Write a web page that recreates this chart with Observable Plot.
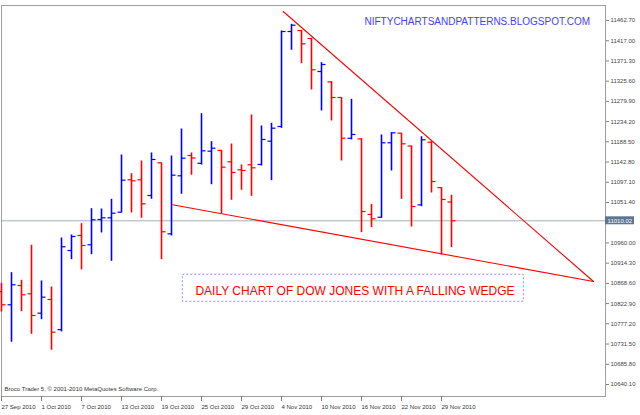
<!DOCTYPE html>
<html><head><meta charset="utf-8">
<script src="https://cdn.jsdelivr.net/npm/d3@7"></script>
<script src="https://cdn.jsdelivr.net/npm/@observablehq/plot@0.6"></script>
<style>body{margin:0;background:#fff;} svg{display:block}</style>
</head><body><div id="chart"></div>
<script>
// Trading days (one bar each)
const dates = ["27 Sep 2010","28 Sep 2010","29 Sep 2010","30 Sep 2010","1 Oct 2010","4 Oct 2010","5 Oct 2010","6 Oct 2010","7 Oct 2010","8 Oct 2010","11 Oct 2010","12 Oct 2010","13 Oct 2010","14 Oct 2010","15 Oct 2010","18 Oct 2010","19 Oct 2010","20 Oct 2010","21 Oct 2010","22 Oct 2010","25 Oct 2010","26 Oct 2010","27 Oct 2010","28 Oct 2010","29 Oct 2010","1 Nov 2010","2 Nov 2010","3 Nov 2010","4 Nov 2010","5 Nov 2010","8 Nov 2010","9 Nov 2010","10 Nov 2010","11 Nov 2010","12 Nov 2010","15 Nov 2010","16 Nov 2010","17 Nov 2010","18 Nov 2010","19 Nov 2010","22 Nov 2010","23 Nov 2010","24 Nov 2010","26 Nov 2010","29 Nov 2010","30 Nov 2010"];
const open  = [10850,10820.2,10863.8,10845,10801.2,10832.2,10764,10942.9,10976.8,10955.8,11013,11016.8,11029.5,11102.7,11102.7,11067.2,11141.1,10980.6,11111.7,11157.6,11140,11167.3,11169,11143.4,11125.3,11136.6,11137.3,11189.9,11223.1,11437.8,11440,11422,11347.4,11324,11288.7,11196.5,11195,11024.3,11018,11186.3,11208,11179,11046,11187.7,11085,11052.5];
const high  = [10870,10893.9,10876.7,10955.8,10875.1,10861.5,10972.3,10979.1,11004.6,11038.5,11037.8,11059.7,11159.9,11117.6,11146.3,11164.4,11141.8,11157.6,11218.6,11164.4,11253.2,11189.9,11170.5,11184.7,11137.3,11250.3,11225.4,11231.5,11440.1,11455.2,11441.7,11423.6,11368.5,11325.5,11289.4,11285.7,11196.7,11048.4,11205.1,11210.3,11208.9,11180.2,11201.2,11189.9,11086,11068.8];
const low   = [10805,10736.6,10805.7,10754.6,10787.6,10718.5,10760,10923.2,10900,10934.5,10983.6,10919.6,11028.8,11028.8,11016.8,11059.7,10923.2,10976.8,11071,11114,11137,11092.7,11027.2,11057.5,11080.1,11066.5,11135,11101.8,11220,11396.5,11366.2,11306.8,11259.3,11236.7,11146.3,11194,10984.3,10995.6,11016.8,11123.7,11059.7,10997.1,11043,11074,10933.9,10950.4];
const close = [10820.2,10865.4,10842.8,10796,10837.4,10758.3,10951.3,10974.5,10954.2,11012.3,11016.8,11027.2,11101.8,11100.4,11048.4,11148.6,10985.2,11113.1,11151.5,11151.9,11168.2,11174.1,11131.2,11119.2,11123.7,11129.8,11193.8,11219.3,11437.8,11452.1,11410,11351.3,11363.3,11288.7,11196.7,11205.1,11031,11014.5,11186.3,11208.9,11184,11042.3,11193.1,11098.8,11058.2,11010.02];

const xTickIndex = [0,4,8,12,16,20,24,28,32,36,40,44];
const yTicks = [11462.70,11417.00,11371.30,11325.60,11279.90,11234.20,11188.50,11142.80,11097.10,11051.40,10960.00,10914.30,10868.60,10822.90,10777.20,10731.50,10685.80,10640.10];
const currentPrice = 11010.02;

// Wedge trendlines (bar index, price)
const upperLineX = [28.17, 59.2];
const upperLineY = [11483, 10872.8];
const lowerLineX = [17.1, 59.2];
const lowerLineY = [11046.2, 10872.8];

// Annotations (bar index, price)
const urlText = "NIFTYCHARTSANDPATTERNS.BLOGSPOT.COM";
const urlX = 36.3, urlY = 11459.8;
const noteText = "DAILY CHART OF DOW JONES WITH A FALLING WEDGE";
const noteX = 35.35, noteY = 10851.4;
const noteBoxX = [18.13, 52.23];
const noteBoxY = [10827.0, 10888.0];
const footer = "Broco Trader 5, © 2001-2010 MetaQuotes Software Corp.";

const bars = dates.map((d, i) => ({i, open: open[i], high: high[i], low: low[i], close: close[i], up: close[i] >= open[i]}));
const upBars = bars.filter(d => d.up);
const downBars = bars.filter(d => !d.up);
const upper = upperLineX.map((x, k) => ({x, y: upperLineY[k]}));
const lower = lowerLineX.map((x, k) => ({x, y: lowerLineY[k]}));

function ohlc(data, color) {
  return [
    Plot.link(data, {x1: "i", x2: "i", y1: "low", y2: "high", stroke: color, strokeWidth: 1.6}),
    Plot.link(data, {x1: d => d.i - 0.4, x2: "i", y1: "open", y2: "open", stroke: color, strokeWidth: 1.2}),
    Plot.link(data, {x1: "i", x2: d => d.i + 0.4, y1: "close", y2: "close", stroke: color, strokeWidth: 1.2})
  ];
}

const chart = Plot.plot({
  width: 640, height: 415,
  marginLeft: 1, marginRight: 35, marginTop: 5, marginBottom: 19,
  x: {domain: [0, 60.4], axis: null},
  y: {domain: [10612.9, 11496.6], axis: null},
  style: {fontFamily: "'Liberation Sans', Arial, sans-serif", fontSize: "6px", background: "#fff"},
  marks: [
    Plot.ruleY([currentPrice], {stroke: "#a8b0b8"}),
    Plot.frame({stroke: "#a0a0a0"}),
    Plot.axisY({anchor: "right", ticks: yTicks, tickSize: 3, tickPadding: 2, tickFormat: d => d.toFixed(2), stroke: "#808080", fill: "#444"}),
    Plot.axisX({anchor: "bottom", ticks: xTickIndex, tickFormat: i => dates[i], textAnchor: "start", tickSize: 5, tickPadding: 3, stroke: "#808080", fill: "#333"}),
    Plot.rect([currentPrice], {x1: 60.4, x2: 63.3, y1: d => d - 9, y2: d => d + 9, fill: "#5d7593"}),
    Plot.text([currentPrice], {x: 60.4, y: d => d, text: d => d.toFixed(2), textAnchor: "start", dx: 2, fill: "#fff"}),
    ...ohlc(upBars, "#0000ff"),
    ...ohlc(downBars, "#ff0000"),
    Plot.line(upper, {x: "x", y: "y", stroke: "#ff0000", strokeWidth: 1.1}),
    Plot.line(lower, {x: "x", y: "y", stroke: "#ff0000", strokeWidth: 1.1}),
    Plot.rect([0], {x1: noteBoxX[0], x2: noteBoxX[1], y1: noteBoxY[0], y2: noteBoxY[1], fill: "none", stroke: "#8a8aff", strokeDasharray: "2,2"}),
    Plot.text([noteText], {x: noteX, y: noteY, text: d => d, fontSize: 12, fill: "#ff0000", textAnchor: "middle"}),
    Plot.text([urlText], {x: urlX, y: urlY, text: d => d, fontSize: 10, fill: "#3f3fff", textAnchor: "start"}),
    Plot.text([footer], {frameAnchor: "bottom-left", text: d => d, dx: 3, dy: -6, fill: "#333"})
  ]
});
document.getElementById("chart").append(chart);
</script>
</body></html>
